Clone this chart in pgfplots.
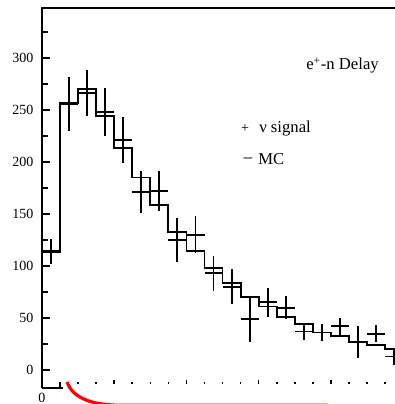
\documentclass[border=0pt]{standalone}
\usepackage{fontspec}
\setmainfont{Liberation Serif}
\usepackage{pgfplots}
\pgfplotsset{compat=1.18}
\usepackage{pgfplotstable}

\pgfplotstableread{
x y ey
0.5 114 12
1.5 256 26
2.5 266 22
3.5 248 23
4.5 221 22
5.5 171 20
6.5 172 19
7.5 125 21
8.5 130 18
9.5 93 17
10.5 80 17
11.5 49 22
12.5 65 14
13.5 60 11
14.5 37 8
15.5 36 8
16.5 42 8
17.5 27 15
18.5 35 8
19.5 13 8
}\datatab

\pgfplotstableread{
x y
0 113
1 257
2 270
3 244
4 213
5 185
6 159
7 133
8 114
9 98
10 84
11 70
12 61
13 51
14 44
15 36
16 33
17 27
18 24
19 20
20 20
}\mctab

\begin{document}
\begin{tikzpicture}
\path[use as bounding box] (0,0) rectangle (296.25pt,303pt);
\begin{axis}[
  at={(31.5pt,12pt)}, anchor=south west,
  scale only axis, width=264.75pt, height=285pt,
  xmin=0, xmax=19.55, ymin=-17.3, ymax=348,
  axis x line=bottom, axis y line=left,
  axis line style={-, line width=1.5pt, black},
  tick align=inside,
  major tick length=6pt, minor tick length=4.5pt,
  tick style={line width=1.2pt, black},
  xtick={0,4,8,12,16}, xticklabels={0,,,,},
  minor xtick={1,2,3,5,6,7,9,10,11,13,14,15,17,18,19},
  ytick={0,50,...,300},
  minor ytick={25,75,...,325},
  tick label style={font=\fontsize{10.5}{12}\selectfont},
  /pgf/number format/assume math mode=true,
  yticklabel style={xshift=-3pt},
]
\addplot[const plot mark left, black, line width=1.4pt, mark=none] table[x=x,y=y] {\mctab};
\addplot[draw=none, mark=none,
  error bars/.cd, x dir=both, x fixed=0.5, y dir=both, y explicit,
  error mark=none, error bar style={draw=black, line width=1.4pt}]
  table[x=x, y=y, y error=ey] {\datatab};
\end{axis}
% top spine
\draw[line width=1.5pt, line cap=rect, black] (31.5pt,297pt) -- (300pt,297pt);
% faded lower part of the bottom axis
\fill[white] (47.6pt,6.9pt) rectangle (300pt,15.3pt);
% red annotation stroke
\draw[red, line width=2.4pt] (50.25pt,16.5pt) .. controls (54pt,6pt) and (66pt,-0.9pt) .. (90pt,-0.9pt) -- (246pt,-0.9pt);
% annotations
\node[anchor=base west, inner sep=0, font=\fontsize{12.5}{14}\selectfont] at (229.5pt,250.5pt) {e\textsuperscript{+}-n Delay};
\node[anchor=center, inner sep=0, font=\fontsize{10.5}{12}\selectfont] at (183.75pt,206.25pt) {+};
\node[anchor=base west, inner sep=0, font=\fontsize{12.5}{14}\selectfont] at (194.25pt,203.25pt) {ν signal};
\node[anchor=center, inner sep=0, font=\fontsize{13}{14}\selectfont] at (186pt,183pt) {–};
\node[anchor=base west, inner sep=0, font=\fontsize{12.5}{14}\selectfont] at (193.5pt,179.25pt) {MC};
\end{tikzpicture}
\end{document}
